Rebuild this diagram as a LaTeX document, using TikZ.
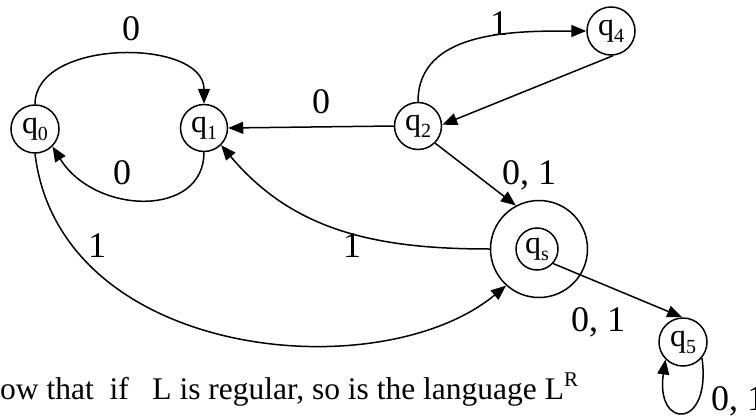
\documentclass[tikz,border=0pt]{standalone}
\usepackage{fontspec}
\setmainfont{Liberation Serif}
\usetikzlibrary{arrows.meta}
\begin{document}
\begin{tikzpicture}[x=1pt,y=-1pt,
  state/.style={draw,circle,line width=1.5pt,minimum size=#1,inner sep=0pt,font=\fontsize{32}{32}\selectfont},
  state/.default=48pt,
  edge/.style={draw,line width=1.5pt,-{Triangle[length=15pt,width=12pt]}},
  lbl/.style={font=\fontsize{36}{36}\selectfont,inner sep=0pt}]
\useasboundingbox (0,0) rectangle (756,418);
\clip (0,0) rectangle (756,418);
\newcommand{\qsub}[1]{q\raisebox{-7pt}{\fontsize{20}{20}\selectfont #1}}
\node[state=48pt] (q0) at (35,129) {\qsub{0}};
\node[state=47pt] (q1) at (204,128) {\qsub{1}};
\node[state=47pt] (q2) at (418,126) {\qsub{2}};
\node[state=48pt] (q4) at (611,31) {\qsub{4}};
\node[state=97pt] (qsout) at (539,249) {};
\node[state=42pt] (qsin) at (537,249) {\qsub{s}};
\node[state=48pt] (q5) at (683,342) {\qsub{5}};
% edges
\draw[edge] (q0.north) .. controls (35,38) and (204,38) .. (q1.north);
\draw[edge] (q1.south) .. controls (204,218) and (95,215) .. (q0.-45);
\draw[edge] (q2.west) -- (q1.east);
\draw[edge] (q2.north) to[out=90,in=180] (q4.west);
\draw[edge] (q4.275) -- (q2.3);
\draw[edge] (q2.-45) -- (qsout.118);
\draw[edge] (qsout.west) to[out=180,in=-50] (q1.-45);
\draw[edge] (q0.south) .. controls (60,360) and (380,390) .. (qsout.-132);
\draw[edge] (qsin.-42) -- (q5.92);
\draw[edge] (q5.-40) .. controls (712,430) and (655,430) .. (q5.-135);
% labels
\node[lbl] (l1) at (131,29) {0};
\node[lbl] (l2) at (122,173) {0};
\node[lbl] (l3) at (321,102) {0};
\node[lbl] (l4) at (499,24) {1};
\node[lbl] (l5) at (529,175) {0, 1};
\node[lbl] (l6) at (97,246) {1};
\node[lbl] (l7) at (352,246) {1};
\node[lbl] (l8) at (598,322) {0, 1};
\node[lbl,anchor=base west] (l9) at (711,410) {0, 1};
\node[anchor=base west,inner sep=0pt,font=\fontsize{31.5}{31.5}\selectfont] (txt) at (0,399) {ow that\ \ if\ \ \ L is regular, so is the language L\raisebox{13pt}{\fontsize{21}{21}\selectfont R}};
\end{tikzpicture}
\end{document}
